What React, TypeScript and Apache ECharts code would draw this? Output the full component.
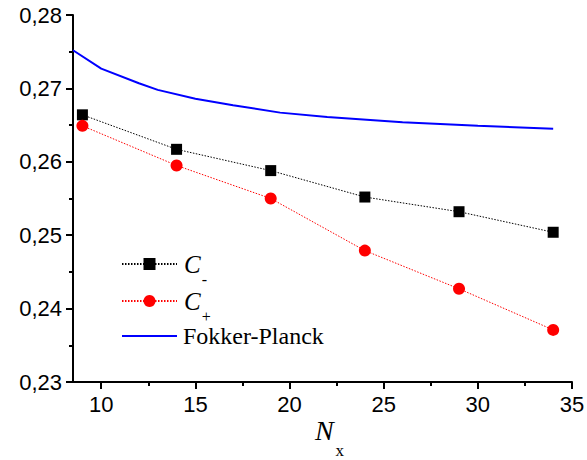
import React, { useEffect, useRef } from "react";
import * as echarts from "echarts";

const nx = [9, 14, 19, 24, 29, 34];
const cMinus = [0.2664, 0.2617, 0.2588, 0.2552, 0.2532, 0.2504];
const cPlus = [0.2649, 0.2595, 0.255, 0.2479, 0.2427, 0.2371];
const fpN = [8.5, 10, 12, 13, 15, 17, 19.5, 22, 26, 30, 34];
const fpVal = [0.2752, 0.2727, 0.2707, 0.2698, 0.2686, 0.2677, 0.2667, 0.2661, 0.2654, 0.2649, 0.2645];
const xMajorTicks = [10, 15, 20, 25, 30, 35];
const xMinorTicks = [12.5, 17.5, 22.5, 27.5, 32.5];
const seriesNames = ["C-", "C+", "Fokker-Planck"];

export default function App() {
  const ref = useRef<HTMLDivElement>(null);
  useEffect(() => {
    document.body.style.margin = "0";
    const chart = echarts.init(ref.current!, null, { renderer: "svg" });
    const sans = "'Liberation Sans', Arial, sans-serif";
    const serif = "'Liberation Serif', 'Times New Roman', Times, serif";
    chart.setOption({
      animation: false,
      backgroundColor: "#fff",
      grid: { left: 73, right: 15, top: 15, bottom: 78, outerBoundsMode: "none" },
      legend: {
        orient: "vertical",
        left: 121,
        top: 241,
        padding: 0,
        itemWidth: 55,
        itemHeight: 15,
        itemGap: -9,
        data: [
          seriesNames[0],
          seriesNames[1],
          { name: seriesNames[2], itemStyle: { opacity: 0 } },
        ],
        formatter: (name: string) => {
          if (name === "C-") return "{c|C}{s|-}";
          if (name === "C+") return "{c|C}{s|+}";
          return "{f|" + name + "}";
        },
        textStyle: {
          fontFamily: serif,
          fontSize: 24,
          lineHeight: 42,
          color: "#000",
          rich: {
            c: { fontFamily: serif, fontSize: 25, fontStyle: "italic", lineHeight: 26, color: "#000", padding: [0, 0, 0, 2] },
            s: { fontFamily: serif, fontSize: 16, lineHeight: 10, padding: [30, 0, 0, 1], color: "#000" },
            f: { fontFamily: serif, fontSize: 24, lineHeight: 42, color: "#000", padding: [0, 0, 0, 1] },
          },
        },
      },
      xAxis: [
        {
          type: "value",
          min: 8.5,
          max: 35,
          name: "{n|N}{s|x}",
          nameLocation: "middle",
          nameGap: 33,
          nameMoveOverlap: false,
          nameTextStyle: {
            padding: [0, 0, 0, 14],
            rich: {
              n: { fontFamily: serif, fontSize: 28, fontStyle: "italic", lineHeight: 30, color: "#000" },
              s: { fontFamily: serif, fontSize: 17, lineHeight: 10, padding: [40, 0, 0, 2], color: "#000" },
            },
          },
          splitLine: { show: false },
          axisLine: { show: true, onZero: false, lineStyle: { color: "#000", width: 2 } },
          axisTick: { show: true, customValues: xMajorTicks, length: 7, lineStyle: { color: "#000", width: 2 } },
          axisLabel: {
            customValues: xMajorTicks,
            fontFamily: sans,
            fontSize: 22,
            color: "#000",
            margin: 11,
          },
        },
        {
          type: "value",
          min: 8.5,
          max: 35,
          position: "bottom",
          splitLine: { show: false },
          axisLine: { show: false },
          axisTick: { show: true, customValues: xMinorTicks, length: 4, lineStyle: { color: "#000", width: 2 } },
          axisLabel: { show: false },
        },
      ],
      yAxis: {
        type: "value",
        min: 0.23,
        max: 0.28,
        interval: 0.01,
        splitLine: { show: false },
        axisLine: { show: true, onZero: false, lineStyle: { color: "#000", width: 2 } },
        axisTick: { show: true, length: 7, lineStyle: { color: "#000", width: 2 } },
        minorTick: { show: true, splitNumber: 2, length: 4, lineStyle: { color: "#000", width: 2 } },
        axisLabel: {
          fontFamily: sans,
          fontSize: 22,
          color: "#000",
          margin: 11,
          formatter: (v: number) => v.toFixed(2).replace(".", ","),
        },
      },
      series: [
        {
          name: "C-",
          type: "line",
          data: nx.map((x, i) => [x, cMinus[i]]),
          symbol: "rect",
          symbolSize: 11,
          itemStyle: { color: "#000" },
          lineStyle: { color: "#000", width: 1, type: [1.5, 1.5] },
        },
        {
          name: "C+",
          type: "line",
          data: nx.map((x, i) => [x, cPlus[i]]),
          symbol: "circle",
          symbolSize: 12,
          itemStyle: { color: "#ff0000" },
          lineStyle: { color: "#ff0000", width: 1, type: [1.5, 1.5] },
        },
        {
          name: "Fokker-Planck",
          type: "line",
          data: fpN.map((x, i) => [x, fpVal[i]]),
          symbol: "none",
          itemStyle: { color: "#0000ff" },
          lineStyle: { color: "#0000ff", width: 2 },
          z: 1,
        },
      ],
    });
    return () => chart.dispose();
  }, []);
  return <div ref={ref} style={{ width: 587, height: 460 }} />;
}
